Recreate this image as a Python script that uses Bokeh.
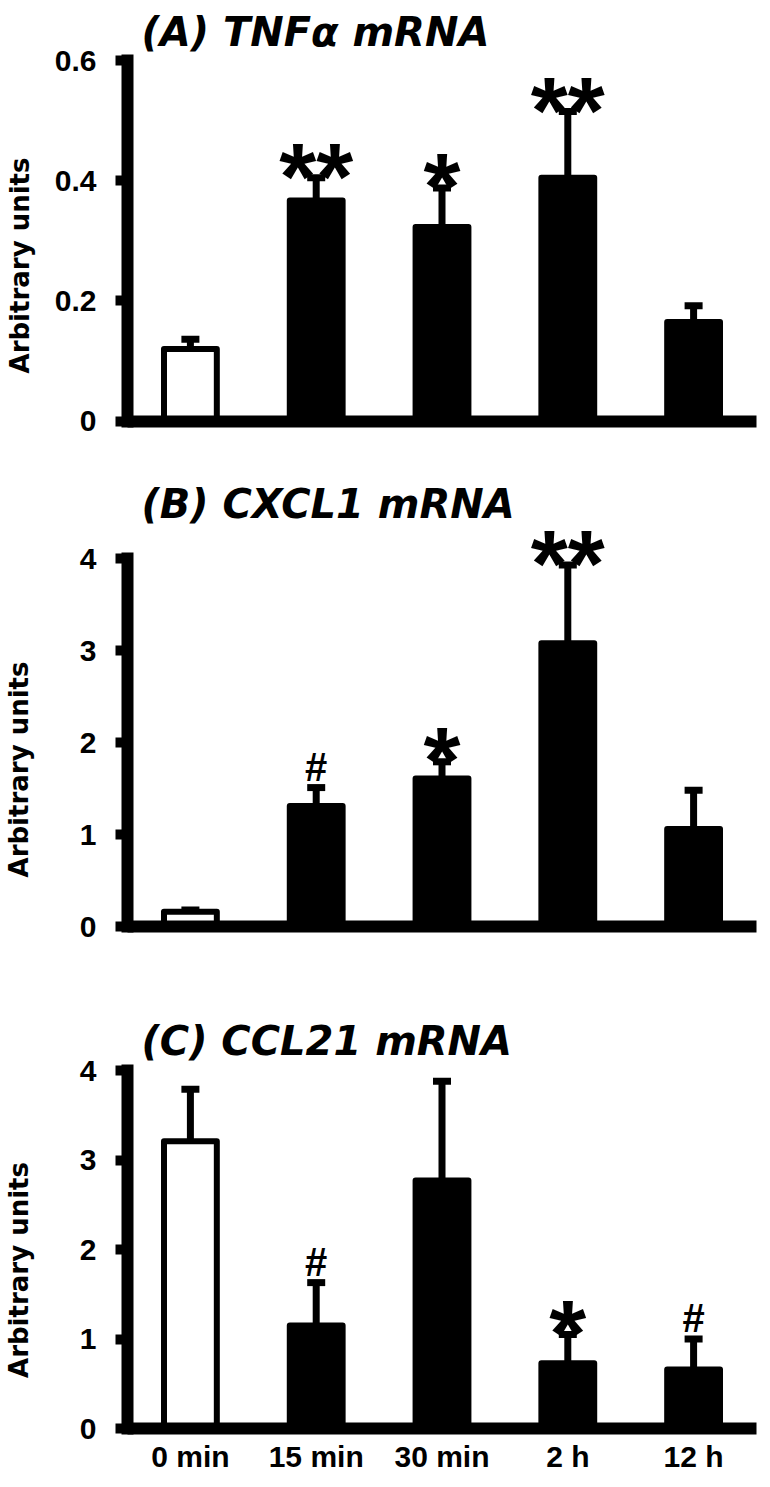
from bokeh.plotting import figure
from bokeh.models import (FactorRange, Range1d, FixedTicker, Whisker, TeeHead,
                          ColumnDataSource)
from bokeh.layouts import column
from bokeh.core.properties import value
from bokeh.embed import file_html
from bokeh.resources import INLINE

# ---------------- data ----------------
cats = ["0 min", "15 min", "30 min", "2 h", "12 h"]

tnf_mean = [0.120, 0.367, 0.323, 0.405, 0.165]
tnf_err = [0.016, 0.038, 0.065, 0.110, 0.027]
tnf_sig = ["", "**", "*", "**", ""]
tnf_ticks = [0, 0.2, 0.4, 0.6]
tnf_tick_labels = ["0", "0.2", "0.4", "0.6"]

cxcl1_mean = [0.16, 1.31, 1.61, 3.08, 1.06]
cxcl1_err = [0.02, 0.20, 0.18, 0.85, 0.42]
cxcl1_sig = ["", "#", "*", "**", ""]
cxcl1_ticks = [0, 1, 2, 3, 4]
cxcl1_tick_labels = ["0", "1", "2", "3", "4"]

ccl21_mean = [3.21, 1.15, 2.77, 0.73, 0.66]
ccl21_err = [0.58, 0.48, 1.11, 0.32, 0.34]
ccl21_sig = ["", "#", "", "*", "#"]
ccl21_ticks = [0, 1, 2, 3, 4]
ccl21_tick_labels = ["0", "1", "2", "3", "4"]

titles = ["(A) TNF\u03b1 mRNA", "(B) CXCL1 mRNA", "(C) CCL21 mRNA"]
ylabel = "Arbitrary units"

TICK_FONT = "Liberation Sans"
TITLE_FONT = "DejaVu Sans"


def make_panel(title, means, errs, sigs, ticks, tick_labels, height,
               border_top, title_standoff, axis_top_px, axis_bottom_px,
               label_standoff, show_x_labels):
    """axis_top_px / axis_bottom_px: pixel rows (from the figure top) of the
    highest tick and of y = 0. The frame runs from border_top to the figure
    bottom so that the x labels are drawn inside it; the y axis is bounded
    to the tick span."""
    ymax = ticks[-1]
    px_per_unit = (axis_bottom_px - axis_top_px) / ymax
    y_end = (axis_bottom_px - border_top) / px_per_unit
    y_start = -(height - axis_bottom_px) / px_per_unit

    p = figure(x_range=FactorRange(*cats, range_padding=0),
               y_range=Range1d(y_start, y_end),
               width=758, height=height, title=title,
               min_border_left=121, min_border_right=2,
               min_border_top=border_top, min_border_bottom=0,
               output_backend="svg", toolbar_location=None)
    p.outline_line_color = None
    p.grid.visible = False
    p.background_fill_color = "white"
    p.border_fill_color = "white"

    # panel title
    p.title.text_font = TITLE_FONT
    p.title.text_font_style = "bold italic"
    p.title.text_font_size = "40px"
    p.title.align = "left"
    p.title.offset = 14
    p.title.standoff = title_standoff
    p.title.text_color = "black"

    fills = ["white" if i == 0 else "black" for i in range(len(cats))]
    upper = [m + e for m, e in zip(means, errs)]
    src = ColumnDataSource(dict(x=cats, top=means, upper=upper, fill=fills))

    # error bars (upper only)
    w = Whisker(source=src, base="x", lower="top", upper="upper",
                line_color="black", line_width=7,
                upper_head=TeeHead(size=18, line_width=7, line_color="black"),
                lower_head=None)
    p.add_layout(w)

    p.vbar(x="x", top="top", bottom=0, width=0.42, source=src,
           fill_color="fill", line_color="black", line_width=6,
           line_join="round")

    # significance markers
    star_idx = [i for i, s in enumerate(sigs) if s.startswith("*")]
    hash_idx = [i for i, s in enumerate(sigs) if s.startswith("#")]
    if star_idx:
        p.text(x=[cats[i] for i in star_idx], y=[upper[i] for i in star_idx],
               text=[sigs[i] for i in star_idx], text_align="center",
               text_baseline="alphabetic", y_offset=-2,
               text_font=value(TICK_FONT), text_font_style="bold",
               text_font_size="95px", text_color="black")
    if hash_idx:
        p.text(x=[cats[i] for i in hash_idx], y=[upper[i] for i in hash_idx],
               text=[sigs[i] for i in hash_idx], text_align="center",
               text_baseline="alphabetic", y_offset=-21,
               text_font=value(TICK_FONT), text_font_style="bold",
               text_font_size="40px", text_color="black")

    # y axis
    ya = p.yaxis[0]
    ya.bounds = (0, ymax)
    ya.ticker = FixedTicker(ticks=ticks, minor_ticks=[])
    ya.major_label_overrides = {t: l for t, l in zip(ticks, tick_labels)}
    ya.axis_line_width = 12
    ya.axis_line_cap = "square"
    ya.major_tick_line_width = 10
    ya.major_tick_out = 12
    ya.major_tick_in = 0
    ya.minor_tick_line_color = None
    ya.major_label_standoff = 19
    ya.major_label_text_font = TICK_FONT
    ya.major_label_text_font_style = "bold"
    ya.major_label_text_font_size = "30px"
    ya.major_label_text_color = "black"
    ya.axis_label = ylabel
    ya.axis_label_text_font = TITLE_FONT
    ya.axis_label_text_font_style = "bold"
    ya.axis_label_text_font_size = "26px"
    ya.axis_label_standoff = label_standoff
    ya.axis_label_text_color = "black"

    # x axis, fixed on y = 0 (inside the frame)
    xa = p.xaxis[0]
    xa.fixed_location = 0
    xa.axis_line_width = 12
    xa.axis_line_cap = "square"
    xa.major_tick_line_color = None
    xa.minor_tick_line_color = None
    xa.major_tick_out = 0
    xa.major_tick_in = 0
    xa.major_label_text_font = TICK_FONT
    xa.major_label_text_font_style = "bold"
    xa.major_label_text_font_size = "30px"
    xa.major_label_standoff = 11
    xa.major_label_text_color = "black" if show_x_labels else None
    return p


pA = make_panel(titles[0], tnf_mean, tnf_err, tnf_sig, tnf_ticks, tnf_tick_labels,
                height=470, border_top=55, title_standoff=12,
                axis_top_px=55, axis_bottom_px=420,
                label_standoff=17, show_x_labels=False)
pB = make_panel(titles[1], cxcl1_mean, cxcl1_err, cxcl1_sig, cxcl1_ticks,
                cxcl1_tick_labels, height=540, border_top=58, title_standoff=3,
                axis_top_px=88, axis_bottom_px=456,
                label_standoff=43, show_x_labels=False)
pC = make_panel(titles[2], ccl21_mean, ccl21_err, ccl21_sig, ccl21_ticks,
                ccl21_tick_labels, height=461, border_top=58, title_standoff=9,
                axis_top_px=60, axis_bottom_px=418,
                label_standoff=43, show_x_labels=True)

layout = column(pA, pB, pC, spacing=0)
open("out.html", "w").write(file_html(layout, INLINE))
